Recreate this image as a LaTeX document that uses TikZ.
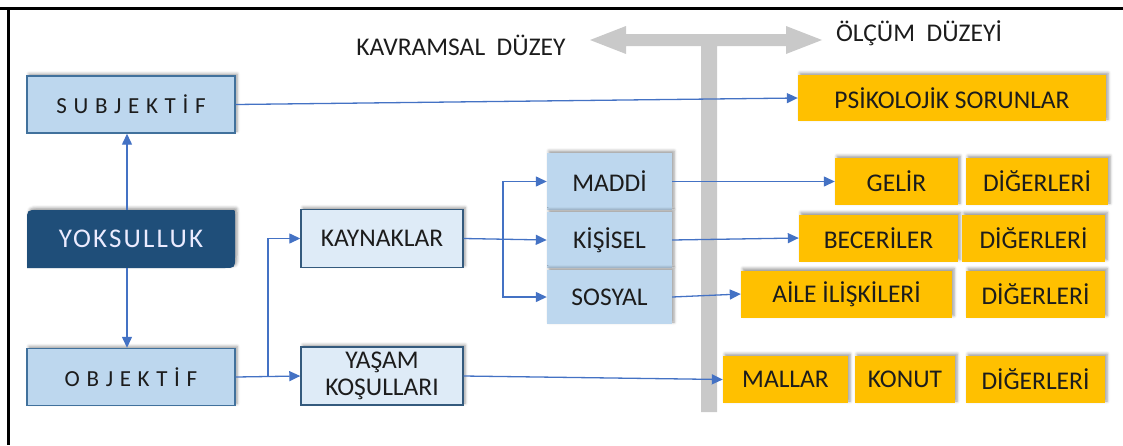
\documentclass[tikz,border=0pt]{standalone}
\usepackage{fontspec}
\setmainfont{Carlito}
\newfontfamily\widefont[LetterSpace=29]{Carlito}
\newfontfamily\midfont[LetterSpace=8]{Carlito}
\usetikzlibrary{arrows.meta,shadows.blur}

\definecolor{ink}{HTML}{1C1C1C}
\definecolor{bluefill}{HTML}{BDD7EE}
\definecolor{palefill}{HTML}{DEEBF7}
\definecolor{blueline}{HTML}{41719C}
\definecolor{navy}{HTML}{1F4E79}
\definecolor{amber}{HTML}{FFC000}
\definecolor{link}{HTML}{4472C4}
\definecolor{bar}{HTML}{C9C9C9}

\tikzset{
  softshadow/.style={blur shadow={shadow xshift=2pt, shadow yshift=2pt,
      shadow blur radius=3pt, shadow opacity=40}},
  box/.style={inner sep=0pt, align=center, text=ink,
      font=\fontsize{25.5}{28}\selectfont},
  outerbox/.style={box, fill=bluefill, draw=blueline, line width=1.4pt,
      minimum width=208pt, minimum height=57pt, softshadow,
      font=\widefont\fontsize{23}{25}\selectfont},
  midbox/.style={box, fill=palefill, draw=blueline!80!black, line width=1.4pt,
      minimum width=162pt, minimum height=58pt, softshadow},
  subbox/.style={box, fill=bluefill, minimum width=125pt, minimum height=56pt,
      softshadow},
  measure/.style={box, fill=amber, minimum height=47pt, softshadow},
  levellabel/.style={text=ink, font=\fontsize{25.5}{28}\selectfont},
  link/.style={draw=link, line width=1.3pt,
      -{Triangle[length=11pt,width=10pt]}},
}

\begin{document}
\begin{tikzpicture}[x=1pt,y=-1pt]
\useasboundingbox (0,0) rectangle (1123,445);

% frame
\draw[line width=3pt] (0,8) -- (1123,8);
\draw[line width=3pt] (8,8) -- (8,445);

% level divider: double arrow with a vertical bar
\fill[bar] (590,40) -- (626,26) -- (626,34) -- (786,34) -- (786,26)
  -- (822,40) -- (786,54) -- (786,46) -- (717,46) -- (717,412)
  -- (701,412) -- (701,46) -- (626,46) -- (626,54) -- cycle;
\node[levellabel] (concept) at (461,45) {KAVRAMSAL\ \ DÜZEY};
\node[levellabel] (measurelvl) at (919,33) {ÖLÇÜM\ \ DÜZEYİ};

% main concept
\fill[navy, softshadow] (27,268) -- (27,221) .. controls (27,210) .. (38,210)
  -- (231,210) .. controls (235,210) .. (235,214) -- (235,257)
  .. controls (235,268) .. (224,268) -- cycle;
\node[box, text=white!92!blue, font=\midfont\fontsize{27}{29}\selectfont,
  minimum width=208pt, minimum height=58pt] (yoks) at (131,239) {YOKSULLUK};

\node[outerbox] (subj) at (131,104.5) {SUBJEKTİF};
\node[outerbox] (obj) at (131,377) {OBJEKTİF};

\node[midbox] (kayn) at (382,238.5) {KAYNAKLAR};
\node[midbox, font=\fontsize{25.5}{27}\selectfont] (yasam) at (382,376)
  {YAŞAM\\KOŞULLARI};

\node[subbox, minimum height=57pt] (maddi) at (609.5,181.5) {MADDİ};
\node[subbox] (kisisel) at (609.5,240) {KİŞİSEL};
\node[subbox, minimum height=54pt] (sosyal) at (609.5,297) {SOSYAL};

% measurement level
\node[measure, minimum width=308pt, minimum height=46pt] (psiko) at (952,98)
  {PSİKOLOJİK SORUNLAR};
\node[measure, minimum width=123pt] (gelir) at (896.5,181.5) {GELİR};
\node[measure, minimum width=142pt] (dig1) at (1037,181.5) {DİĞERLERİ};
\node[measure, minimum width=159pt] (bece) at (878.5,238) {BECERİLER};
\node[measure, minimum width=143pt] (dig2) at (1033.5,238) {DİĞERLERİ};
\node[measure, minimum width=211pt] (aile) at (846.5,294) {AİLE İLİŞKİLERİ};
\node[measure, minimum width=139pt] (dig3) at (1035.5,294) {DİĞERLERİ};
\node[measure, minimum width=125pt] (mallar) at (785.5,379.5) {MALLAR};
\node[measure, minimum width=100pt] (konut) at (905,379.5) {KONUT};
\node[measure, minimum width=139pt] (dig4) at (1035.5,379.5) {DİĞERLERİ};

% connectors
\draw[link] (yoks.north -| 127,0) -- (subj.south -| 127,0);
\draw[link] (yoks.south -| 127,0) -- (obj.north -| 127,0);

\coordinate (j1) at (268,377);
\draw[link] (obj.east) -- (yasam.west);
\draw[link] (j1) |- (kayn.west);

\coordinate (j2) at (503,238.5);
\draw[link] (kayn.east) -- (kisisel.west);
\draw[link] (j2) |- (maddi.west);
\draw[link] (j2) |- (sosyal.west);

\draw[link] (subj.east) -- (psiko.west);
\draw[link] (maddi.east) -- (gelir.west);
\draw[link] (kisisel.east) -- (bece.west);
\draw[link] (sosyal.east) -- (aile.west);
\draw[link] (yasam.east) -- (mallar.west);
\end{tikzpicture}
\end{document}
